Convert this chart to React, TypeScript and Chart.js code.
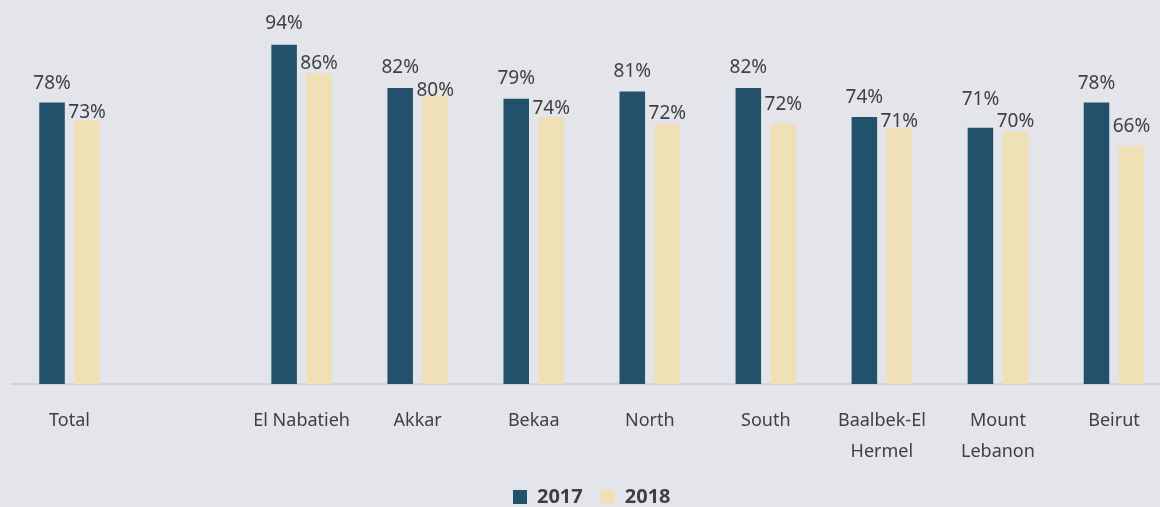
import React, { useEffect, useRef } from "react";
import { Chart, registerables } from "chart.js";

Chart.register(...registerables);

const categories: (string | string[])[] = [
  "Total",
  "",
  "El Nabatieh",
  "Akkar",
  "Bekaa",
  "North",
  "South",
  ["Baalbek-El", "Hermel"],
  ["Mount", "Lebanon"],
  "Beirut",
];
const values2017: (number | null)[] = [78, null, 94, 82, 79, 81, 82, 74, 71, 78];
const values2018: (number | null)[] = [73, null, 86, 80, 74, 72, 72, 71, 70, 66];
const seriesNames = ["2017", "2018"];

// vertical gap (px) between the top of each bar and the centre of its value label
const labelGap2017: number[] = [21, 0, 23, 22, 22, 22, 22, 21, 30, 21];
const labelGap2018: number[] = [10, 0, 12, 7, 10, 13, 22, 8, 12, 21];

const COLOR_2017 = "#22526b";
const COLOR_2018 = "#efe0b6";
const BG = "#e4e5ea";
const TEXT = "#404040";
const FONT = "'Noto Sans', 'Open Sans', sans-serif";

const valueLabels = {
  id: "valueLabels",
  afterDatasetsDraw(chart: any) {
    const ctx = chart.ctx;
    const gaps = [labelGap2017, labelGap2018];
    ctx.save();
    ctx.fillStyle = TEXT;
    ctx.font = `19px ${FONT}`;
    ctx.textAlign = "center";
    ctx.textBaseline = "middle";
    chart.data.datasets.forEach((ds: any, di: number) => {
      const meta = chart.getDatasetMeta(di);
      meta.data.forEach((el: any, i: number) => {
        const v = ds.data[i];
        if (v === null || v === undefined) return;
        ctx.fillText(`${v}%`, el.x, el.y - gaps[di][i] + 2);
      });
    });
    ctx.restore();
  },
};

export default function App() {
  const ref = useRef<HTMLCanvasElement | null>(null);

  useEffect(() => {
    document.body.style.margin = "0";
    document.body.style.background = BG;
    document.body.style.overflow = "hidden";
    if (!ref.current) return;
    const chart = new Chart(ref.current, {
      type: "bar",
      data: {
        labels: categories as any,
        datasets: [
          {
            label: seriesNames[0],
            data: values2017,
            backgroundColor: COLOR_2017,
            categoryPercentage: 0.603,
            barPercentage: 0.73,
          },
          {
            label: seriesNames[1],
            data: values2018,
            backgroundColor: COLOR_2018,
            categoryPercentage: 0.603,
            barPercentage: 0.73,
          },
        ],
      },
      options: {
        animation: false,
        responsive: true,
        maintainAspectRatio: false,
        layout: { padding: { left: 11.5, right: 0, top: 23, bottom: -10 } },
        scales: {
          x: {
            grid: { display: false, drawTicks: false },
            border: { display: true, color: "#d3d4d8", width: 2 },
            ticks: {
              color: TEXT,
              font: { family: FONT, size: 18, lineHeight: 1.72 },
              padding: 21,
              maxRotation: 0,
              autoSkip: false,
            },
            afterFit(scale: any) {
              scale.height = scale.height - 19;
            },
          },
          y: {
            display: false,
            min: 0,
            max: 100,
          },
        },
        plugins: {
          legend: {
            position: "bottom",
            labels: {
              color: TEXT,
              font: { family: FONT, size: 20, weight: "bold" },
              boxWidth: 14,
              boxHeight: 14,
              padding: 18,
            },
          },
          tooltip: { enabled: false },
        },
      },
      plugins: [valueLabels],
    });
    return () => chart.destroy();
  }, []);

  return (
    <div style={{ width: 1160, height: 507, overflow: "hidden", position: "relative", background: BG }}>
      <div style={{ width: 1172, height: 507, position: "absolute", left: 0, top: 0 }}>
        <canvas ref={ref} />
      </div>
    </div>
  );
}
